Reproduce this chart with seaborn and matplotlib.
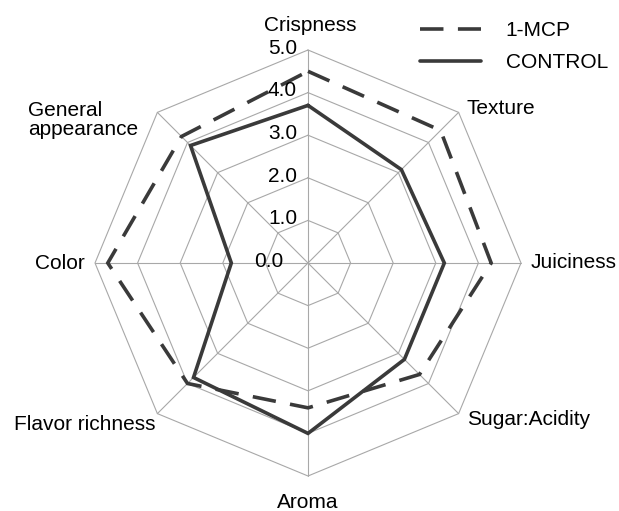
#!/usr/bin/env python3
import numpy as np
import pandas as pd
import matplotlib
matplotlib.use("Agg")
import matplotlib.pyplot as plt
from matplotlib.lines import Line2D
import seaborn as sns

# --- data ---
attributes = ["Crispness", "Texture", "Juiciness", "Sugar:Acidity",
              "Aroma", "Flavor richness", "Color", "General\nappearance"]
mcp_scores = [4.5, 4.4, 4.3, 3.7, 3.4, 4.0, 4.7, 4.2]
control_scores = [3.7, 3.1, 3.2, 3.2, 4.0, 3.8, 1.8, 3.9]
treatments = ["1-MCP", "CONTROL"]
ring_levels = [0.0, 1.0, 2.0, 3.0, 4.0, 5.0]

# --- layout ---
W, H, DPI = 619, 511, 100
CX, CY, UNIT = 308, 263, 42.6          # centre in px, px per score unit
LINE_COLOR = "#3a3a3a"
GRID_COLOR = "#a8a8a8"
FONT = 15

# (dx px, dy px from outer vertex, ha, va)
label_layout = [
    (2, -24, "center", "center"),
    (8, -4, "left", "center"),
    (10, 0, "left", "center"),
    (8, 6, "left", "center"),
    (0, 26, "center", "center"),
    (-2, 11, "right", "center"),
    (-10, 0, "right", "center"),
    (-129, 8, "left", "center"),
]


def to_xy(value, idx, n):
    t = 2 * np.pi * idx / n
    return value * np.sin(t), value * np.cos(t)


def main():
    sns.set_theme(style="white")
    plt.rcParams["font.family"] = ["Liberation Sans", "DejaVu Sans"]
    plt.rcParams["text.color"] = "black"

    n = len(attributes)
    rows = []
    for name, scores in zip(treatments, [mcp_scores, control_scores]):
        for k in range(n + 1):
            i = k % n
            x, y = to_xy(scores[i], i, n)
            rows.append({"treatment": name, "order": k, "x": x, "y": y})
    df = pd.DataFrame(rows)

    fig = plt.figure(figsize=(W / DPI, H / DPI), dpi=DPI)
    ax = fig.add_axes([0, 0, 1, 1])
    ax.set_xlim(-CX / UNIT, (W - CX) / UNIT)
    ax.set_ylim(-(H - CY) / UNIT, CY / UNIT)
    ax.axis("off")

    # octagonal grid
    rmax = ring_levels[-1]
    for r in ring_levels[1:]:
        pts = [to_xy(r, i % n, n) for i in range(n + 1)]
        ax.plot([p[0] for p in pts], [p[1] for p in pts],
                color=GRID_COLOR, lw=0.8, zorder=1)
    for i in range(n):
        x, y = to_xy(rmax, i, n)
        ax.plot([0, x], [0, y], color=GRID_COLOR, lw=0.8, zorder=1)

    sns.lineplot(
        data=df, x="x", y="y", hue="treatment", style="treatment",
        palette={t: LINE_COLOR for t in treatments},
        dashes={"1-MCP": (6.5, 4), "CONTROL": ""},
        sort=False, estimator=None, lw=2.6, legend=False, ax=ax, zorder=3,
    )
    for line in ax.get_lines()[-2:]:
        line.set_solid_joinstyle("miter")
        line.set_dash_joinstyle("miter")

    # radial scale labels
    for r in ring_levels:
        dx = -11 if r > 0 else -25
        ax.text(dx / UNIT, r + 0.04, f"{r:.1f}", ha="right", va="center",
                fontsize=FONT, color="black", zorder=4)

    # attribute labels
    for i, (name, (dx, dy, ha, va)) in enumerate(zip(attributes, label_layout)):
        x, y = to_xy(rmax, i, n)
        ax.text(x + dx / UNIT, y - dy / UNIT, name, ha=ha, va=va,
                fontsize=FONT, color="black", linespacing=1.0)

    handles = [
        Line2D([], [], color=LINE_COLOR, lw=2.6, dashes=(6.5, 4)),
        Line2D([], [], color=LINE_COLOR, lw=2.6),
    ]
    leg = ax.legend(handles, treatments, loc="upper left", frameon=False,
                    fontsize=FONT, handlelength=2.9, handletextpad=1.2,
                    labelspacing=0.6, borderpad=0.4, borderaxespad=0,
                    bbox_to_anchor=(412 / W, 1 - 13 / H))
    for t in leg.get_texts():
        t.set_color("black")

    fig.savefig("out.png", dpi=DPI)
    plt.close(fig)


if __name__ == "__main__":
    main()
